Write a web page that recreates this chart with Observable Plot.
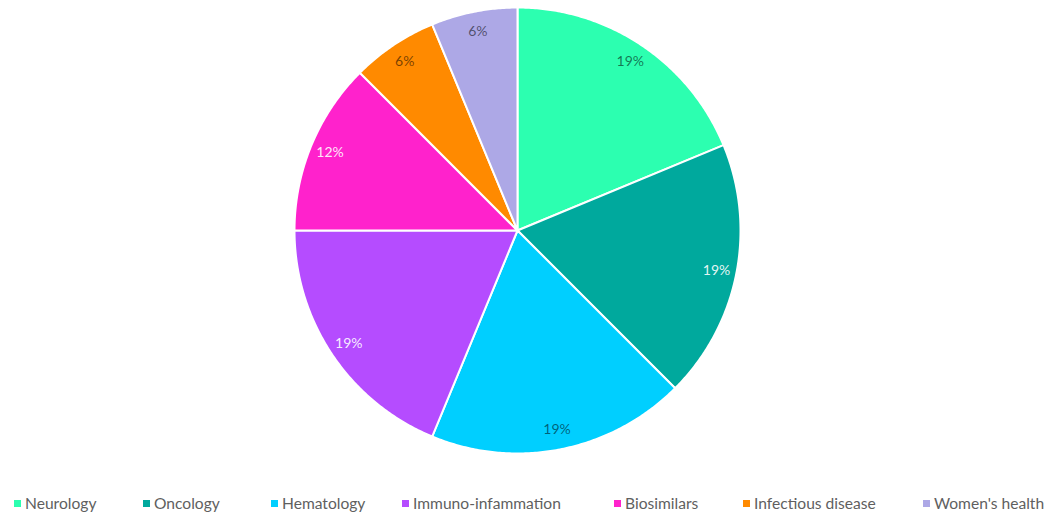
<!DOCTYPE html>
<html>
<head>
<meta charset="utf-8">
<script src="https://cdn.jsdelivr.net/npm/d3@7"></script>
<script src="https://cdn.jsdelivr.net/npm/@observablehq/plot@0.6"></script>
<style>
  html, body { margin: 0; padding: 0; background: #fff; }
  #wrap { position: relative; width: 1050px; height: 516px; overflow: hidden; }
  #legend { position: absolute; left: 0; top: 493px; width: 1050px; height: 20px;
            font-family: Lato, "Open Sans", sans-serif; font-size: 15.6px; color: #5f5f5f; }
  .item { position: absolute; top: 0; white-space: nowrap; line-height: 20px; }
  .sw { display: inline-block; width: 7px; height: 7px; margin-right: 4px; vertical-align: 2px; }
</style>
</head>
<body>
<div id="wrap">
  <div id="chart"></div>
  <div id="legend"></div>
</div>
<script>
// ---- data ----
const categories = ["Neurology", "Oncology", "Hematology", "Immuno-infammation", "Biosimilars", "Infectious disease", "Women's health"];
const values = [3, 3, 3, 3, 2, 1, 1];
const valueLabels = ["19%", "19%", "19%", "19%", "12%", "6%", "6%"];
const colors = ["#2CFFB0", "#00A99D", "#00CFFF", "#B54CFF", "#FF22CC", "#FF8A00", "#ADA8E6"];
const darkSlice = [false, true, false, true, true, false, false];

// ---- layout ----
const W = 1050, H = 470, cx = 517, cy = 230, R = 223;
const legendX = [14, 143, 271, 402, 614, 743, 923];

const total = d3.sum(values);
const slices = [];
const labels = [];
let acc = 0;
categories.forEach((c, i) => {
  const a0 = acc / total * 2 * Math.PI;
  acc += values[i];
  const a1 = acc / total * 2 * Math.PI;
  const n = Math.max(2, Math.ceil((a1 - a0) / (Math.PI / 360)));
  slices.push({cat: c, x: 0, y: 0});
  for (let k = 0; k <= n; k++) {
    const a = a0 + (a1 - a0) * k / n;
    slices.push({cat: c, x: Math.sin(a), y: Math.cos(a)});
  }
  slices.push({cat: c, x: 0, y: 0});
  const am = (a0 + a1) / 2;
  labels.push({cat: c, label: valueLabels[i], x: 0.91 * Math.sin(am), y: 0.91 * Math.cos(am), dark: darkSlice[i]});
});

const plot = Plot.plot({
  width: W,
  height: H,
  margin: 0,
  x: {domain: [-cx / R, (W - cx) / R], axis: null},
  y: {domain: [-(H - cy) / R, cy / R], axis: null},
  color: {domain: categories, range: colors},
  style: {fontFamily: "Lato, 'Open Sans', sans-serif", background: "#fff"},
  marks: [
    Plot.line(slices, {x: "x", y: "y", z: "cat", fill: "cat", stroke: "#fff", strokeWidth: 2, strokeLinejoin: "round", curve: "linear"}),
    Plot.text(labels.filter(d => !d.dark), {x: "x", y: "y", text: "label", fill: "#000", fillOpacity: 0.55, fontSize: 14}),
    Plot.text(labels.filter(d => d.dark), {x: "x", y: "y", text: "label", fill: "#fff", fillOpacity: 0.9, fontSize: 14})
  ]
});
document.getElementById("chart").appendChild(plot);

const legend = document.getElementById("legend");
categories.forEach((c, i) => {
  const it = document.createElement("div");
  it.className = "item";
  it.style.left = legendX[i] + "px";
  const sw = document.createElement("span");
  sw.className = "sw";
  sw.style.background = colors[i];
  it.appendChild(sw);
  it.appendChild(document.createTextNode(c));
  legend.appendChild(it);
});
</script>
</body>
</html>
